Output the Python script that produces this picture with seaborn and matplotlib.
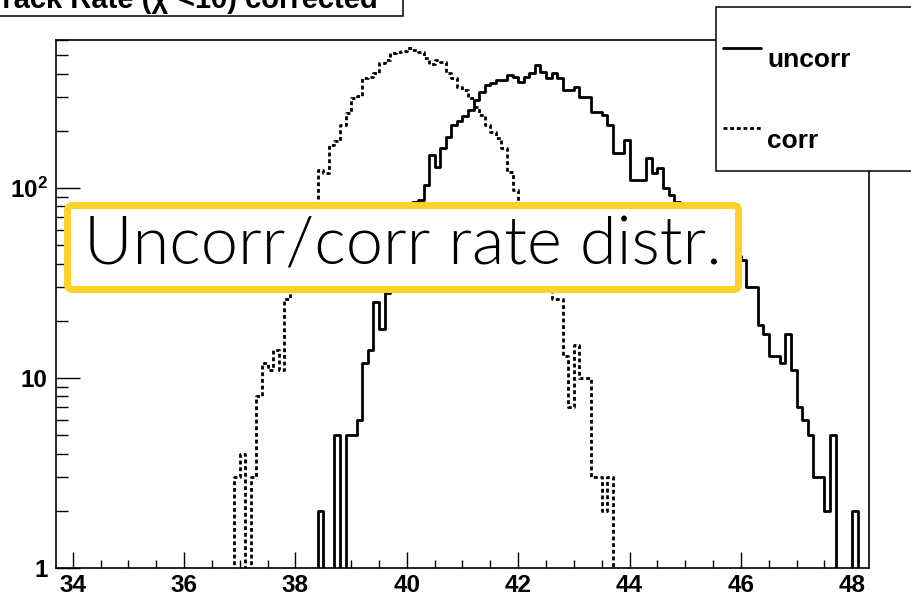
import numpy as np
import pandas as pd
import matplotlib
matplotlib.use("Agg")
import matplotlib.pyplot as plt
import seaborn as sns
from matplotlib.patches import Rectangle, FancyBboxPatch
from matplotlib.lines import Line2D
from matplotlib.ticker import MultipleLocator, LogLocator, NullFormatter, FixedLocator

# ---------------- data ----------------
bin_low = 33.7
bin_width = 0.1
n_bins = 146

uncorr_first_bin = 38.4
uncorr_counts = [2, 0, 0, 5, 0, 5, 5, 6, 12, 14, 25, 18,
                 28, 36, 46, 58, 70, 84, 86,
                 104, 149, 129, 162, 186, 214, 225, 239, 257, 290,
                 321, 349, 355, 370, 370, 393, 385, 363, 385, 401,
                 444, 409, 378, 401, 378, 328, 328, 341, 302, 302,
                 252, 252, 242, 214, 152, 152, 179, 110, 110, 110,
                 143, 120, 127, 100, 92, 84, 78, 74, 70, 66,
                 62, 59, 56, 52, 49, 46, 44, 42, 30, 30,
                 19, 17, 13, 13, 12, 17, 11, 7, 6, 5,
                 3, 3, 2, 5, 0, 0, 0, 2]

corr_first_bin = 36.9
corr_counts = [3, 4, 0, 3, 8, 12, 11, 14, 11, 26,
               30, 38, 48, 58, 72,
               125, 120, 168, 176, 214, 247, 298, 305, 378, 382,
               401, 453, 472, 515, 522, 525, 543, 530, 522, 482,
               448, 472, 462, 401, 378, 341, 328, 297, 268, 242,
               214, 198, 183, 162, 122, 98,
               82, 66, 52, 42, 34, 29,
               26, 26, 13, 7, 15, 10, 10, 3, 3, 2, 3]

series_labels = ["uncorr", "corr"]
x_ticks = [34, 36, 38, 40, 42, 44, 46, 48]
y_ticks = [1, 10, 100]
y_tick_labels = ["1", "10", r"$\mathbf{10^{2}}$"]
title_text = "Track Rate (\u03c7\u00b2<10) corrected"
overlay_text = "Uncorr/corr rate distr."

# ---------------- build table ----------------
edges = np.round(bin_low + bin_width * np.arange(n_bins + 1), 3)
centers = edges[:-1] + bin_width / 2


def full_counts(first, counts):
    arr = np.zeros(n_bins)
    i0 = int(round((first - bin_low) / bin_width))
    arr[i0:i0 + len(counts)] = counts
    return arr


df = pd.DataFrame({
    "x": np.concatenate([centers, centers]),
    "w": np.concatenate([full_counts(uncorr_first_bin, uncorr_counts),
                         full_counts(corr_first_bin, corr_counts)]),
    "series": [series_labels[0]] * n_bins + [series_labels[1]] * n_bins,
})

# ---------------- style ----------------
sns.set_theme(style="white")
plt.rcParams["font.family"] = ["Liberation Sans", "DejaVu Sans"]
plt.rcParams["mathtext.fontset"] = "custom"
plt.rcParams["mathtext.bf"] = "Liberation Sans:bold"
plt.rcParams["mathtext.rm"] = "Liberation Sans"

W, H = 912, 597
fig = plt.figure(figsize=(W / 100, H / 100), dpi=100)
fig.patch.set_facecolor("white")

ax_l, ax_r, ax_t, ax_b = 56, 869, 40, 568
ax = fig.add_axes([ax_l / W, 1 - ax_b / H, (ax_r - ax_l) / W, (ax_b - ax_t) / H])
ax.set_facecolor("white")

dot_style = (0, (1.4, 1.0))
line_styles = {"uncorr": "-", "corr": dot_style}
lw = 2.0
bin_list = edges.tolist()
for name in series_labels:
    sub = df[df["series"] == name].reset_index(drop=True)
    sns.histplot(data=sub, x="x", weights="w", bins=bin_list, element="step",
                 fill=False, color="black", linewidth=lw,
                 linestyle=line_styles[name], ax=ax)

ax.set_yscale("log")
ax.set_xlim(bin_low, bin_low + n_bins * bin_width)
ax.set_ylim(1, 601)
ax.set_xlabel("")
ax.set_ylabel("")

# ticks
ax.xaxis.set_major_locator(FixedLocator(x_ticks))
ax.xaxis.set_minor_locator(MultipleLocator(0.5))
ax.set_xticklabels([str(t) for t in x_ticks])
ax.yaxis.set_major_locator(FixedLocator(y_ticks))
ax.yaxis.set_minor_locator(LogLocator(base=10, subs=range(2, 10)))
ax.yaxis.set_minor_formatter(NullFormatter())
ax.set_yticklabels(y_tick_labels)

ax.tick_params(axis="x", which="major", direction="in", length=11.5, width=1.0,
               pad=4, labelsize=17.5, color="black", bottom=True, top=False)
ax.tick_params(axis="x", which="minor", direction="in", length=5.8, width=1.0,
               bottom=True, top=False, color="black")
ax.tick_params(axis="y", which="major", direction="in", length=17.3, width=1.0,
               pad=6, labelsize=17.5, color="black", left=True, right=False)
ax.tick_params(axis="y", which="minor", direction="in", length=8.6, width=1.0,
               left=True, right=False, color="black")
for lab in ax.get_xticklabels() + ax.get_yticklabels():
    lab.set_fontweight("bold")
    lab.set_color("black")

for sp in ax.spines.values():
    sp.set_visible(True)
    sp.set_color("black")
    sp.set_linewidth(1.2)

# ---------------- title box ----------------
title_box = Rectangle((-10 / 100, (H - 15.7) / 100), (403 + 10) / 100, 1.0,
                      transform=fig.dpi_scale_trans, facecolor="white",
                      edgecolor="black", linewidth=1.1, zorder=5)
fig.add_artist(title_box)
fig.text(378 / W, 1 - 8.0 / H, title_text, ha="right", va="baseline",
         fontsize=21, fontweight="bold", color="black", zorder=6,
         family=["Liberation Sans", "DejaVu Sans"])

# ---------------- legend box ----------------
leg_box = Rectangle((716 / 100, (H - 171) / 100), 3.0, (171 - 7) / 100,
                    transform=fig.dpi_scale_trans, facecolor="white",
                    edgecolor="black", linewidth=1.1, zorder=5)
fig.add_artist(leg_box)
leg_entries = [("uncorr", "-", 48.3, 66.7), ("corr", dot_style, 128.3, 148.0)]
for name, ls, ly, tb in leg_entries:
    fig.add_artist(Line2D([722.7 / 100, 761 / 100], [(H - ly) / 100] * 2,
                          transform=fig.dpi_scale_trans, color="black",
                          linewidth=lw, linestyle=ls, zorder=6))
    fig.text(767 / W, 1 - tb / H, name, ha="left", va="baseline",
             fontsize=19, fontweight="bold", color="black", zorder=6)

# ---------------- overlay annotation ----------------
ov = FancyBboxPatch((67.5 / 100, (H - 289.5) / 100), (738.5 - 67.5) / 100,
                    (289.5 - 205.5) / 100,
                    boxstyle="round,pad=0,rounding_size=0.05",
                    transform=fig.dpi_scale_trans, facecolor="white",
                    edgecolor="#FCD12A", linewidth=5.0, zorder=7)
fig.add_artist(ov)
fig.text(403 / W, 1 - 264 / H, overlay_text, ha="center", va="baseline",
         fontsize=48, fontweight=300, color="black", zorder=8,
         family=["Lato", "DejaVu Sans"])

fig.savefig("out.png", dpi=100, facecolor="white")
